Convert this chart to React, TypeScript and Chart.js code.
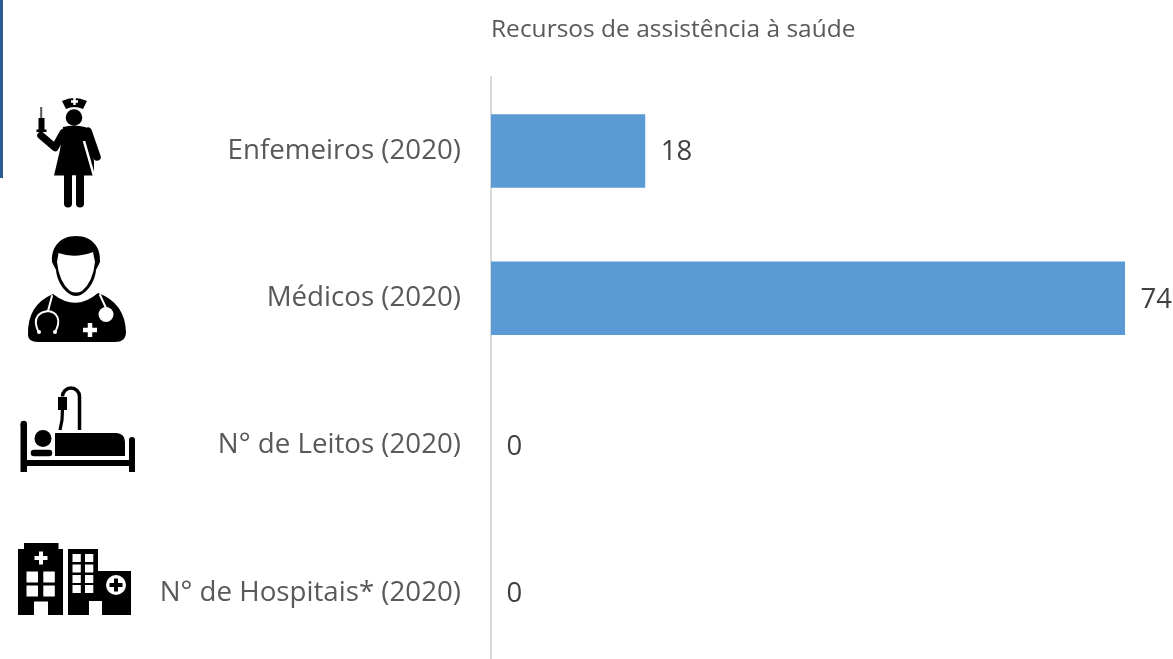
import React, { useEffect, useRef } from "react";
import { Chart, registerables } from "chart.js";

Chart.register(...registerables);

const titleText = "Recursos de assistência à saúde";
const categories = ["Enfemeiros (2020)", "Médicos (2020)", "N° de Leitos (2020)", "N° de Hospitais* (2020)"];
const values = [18, 74, 0, 0];

const FONT = '"Open Sans", "Noto Sans", sans-serif';

const valueLabels = {
  id: "valueLabels",
  afterDatasetsDraw(chart: any) {
    const { ctx } = chart;
    const meta = chart.getDatasetMeta(0);
    ctx.save();
    ctx.font = `27.5px ${FONT}`;
    ctx.fillStyle = "#404040";
    ctx.textAlign = "left";
    ctx.textBaseline = "middle";
    meta.data.forEach((bar: any, i: number) => {
      ctx.fillText(String(values[i]), bar.x + 15.5, bar.y + 1.5);
    });
    ctx.restore();
  },
};

function rect(ctx: CanvasRenderingContext2D, x0: number, y0: number, x1: number, y1: number) {
  ctx.fillRect(x0, y0, x1 - x0, y1 - y0);
}
function line(ctx: CanvasRenderingContext2D, pts: number[][], w: number, cap: CanvasLineCap = "round") {
  ctx.lineWidth = w;
  ctx.lineCap = cap;
  ctx.lineJoin = "round";
  ctx.beginPath();
  pts.forEach((p, i) => (i ? ctx.lineTo(p[0], p[1]) : ctx.moveTo(p[0], p[1])));
  ctx.stroke();
}
function disc(ctx: CanvasRenderingContext2D, x: number, y: number, r: number) {
  ctx.beginPath();
  ctx.arc(x, y, r, 0, Math.PI * 2);
  ctx.fill();
}
function cross(ctx: CanvasRenderingContext2D, x: number, y: number, len: number, t: number) {
  rect(ctx, x - len / 2, y - t / 2, x + len / 2, y + t / 2);
  rect(ctx, x - t / 2, y - len / 2, x + t / 2, y + len / 2);
}
const K = "#000000";
const W = "#ffffff";
function paint(ctx: CanvasRenderingContext2D, c: string) {
  ctx.fillStyle = c;
  ctx.strokeStyle = c;
}

function nurse(ctx: CanvasRenderingContext2D) {
  paint(ctx, K);
  ctx.beginPath();
  ctx.moveTo(62, 101);
  ctx.quadraticCurveTo(74, 95, 87, 101);
  ctx.lineTo(83, 109);
  ctx.quadraticCurveTo(74, 105, 66, 109);
  ctx.closePath();
  ctx.fill();
  disc(ctx, 74, 117.5, 8.3);
  paint(ctx, "#555555");
  rect(ctx, 40.2, 107, 42.2, 118);
  paint(ctx, K);
  rect(ctx, 38.5, 118, 44.5, 130);
  rect(ctx, 36.5, 129.5, 46.5, 132);
  line(ctx, [[41, 135.5], [55, 147.5], [63, 133]], 7.5);
  ctx.beginPath();
  ctx.moveTo(63, 127);
  ctx.quadraticCurveTo(74, 124, 85, 127);
  ctx.quadraticCurveTo(90, 129, 92, 135);
  ctx.lineTo(95, 175.5);
  ctx.lineTo(54, 175.5);
  ctx.lineTo(60, 150);
  ctx.closePath();
  ctx.fill();
  paint(ctx, W);
  line(ctx, [[84, 141], [94, 176]], 2.5, "butt");
  paint(ctx, K);
  line(ctx, [[88, 131], [97, 157]], 7.5);
  paint(ctx, W);
  rect(ctx, 94, 162, 100, 178);
  cross(ctx, 74.5, 101.5, 7, 2.5);
  paint(ctx, W);
  rect(ctx, 72.2, 175.5, 75.8, 208);
  paint(ctx, K);
  line(ctx, [[68, 176], [68, 203.5]], 8);
  line(ctx, [[80, 176], [80, 203.5]], 8);
}

function doctor(ctx: CanvasRenderingContext2D) {
  paint(ctx, K);
  ctx.beginPath();
  ctx.moveTo(28, 335);
  ctx.quadraticCurveTo(27, 305, 53, 294);
  ctx.quadraticCurveTo(76, 312, 98, 293);
  ctx.quadraticCurveTo(125, 303, 126, 332);
  ctx.quadraticCurveTo(126, 342, 115, 342);
  ctx.lineTo(38, 342);
  ctx.quadraticCurveTo(28, 342, 28, 335);
  ctx.closePath();
  ctx.fill();
  ctx.beginPath();
  ctx.moveTo(76, 236);
  ctx.bezierCurveTo(92, 236, 101, 247, 100, 262);
  ctx.lineTo(96, 270);
  ctx.bezierCurveTo(95, 283, 85, 296, 76, 296);
  ctx.bezierCurveTo(67, 296, 57, 283, 56, 270);
  ctx.lineTo(52, 262);
  ctx.bezierCurveTo(51, 247, 60, 236, 76, 236);
  ctx.closePath();
  ctx.fill();
  paint(ctx, W);
  ctx.beginPath();
  ctx.moveTo(57, 262);
  ctx.lineTo(58.5, 253);
  ctx.quadraticCurveTo(75, 259, 93, 252);
  ctx.lineTo(95, 262);
  ctx.quadraticCurveTo(93, 282, 82, 291);
  ctx.quadraticCurveTo(76, 294, 70, 291);
  ctx.quadraticCurveTo(59, 282, 57, 262);
  ctx.closePath();
  ctx.fill();
  ctx.lineWidth = 2;
  ctx.lineCap = "round";
  ctx.beginPath();
  ctx.moveTo(52, 296);
  ctx.lineTo(48, 311);
  ctx.moveTo(38.5, 332);
  ctx.bezierCurveTo(31, 316, 41, 312, 48, 311);
  ctx.bezierCurveTo(57, 312, 62, 320, 55, 332);
  ctx.stroke();
  disc(ctx, 39, 332, 2);
  disc(ctx, 55, 332, 2);
  line(ctx, [[100, 295], [106, 308]], 2);
  disc(ctx, 106, 314.5, 7.5);
  cross(ctx, 90, 330, 14, 4.5);
}

function bed(ctx: CanvasRenderingContext2D) {
  paint(ctx, K);
  rect(ctx, 20.5, 424, 27, 472);
  disc(ctx, 23.75, 424, 3.25);
  rect(ctx, 129, 440, 135, 472);
  disc(ctx, 132, 440, 3);
  rect(ctx, 27, 460, 129, 466);
  disc(ctx, 43, 438.5, 8.5);
  line(ctx, [[34, 453], [49, 453]], 6.5);
  ctx.beginPath();
  ctx.moveTo(55, 433);
  ctx.lineTo(117, 433);
  ctx.quadraticCurveTo(125, 434, 125, 442);
  ctx.lineTo(125, 456);
  ctx.lineTo(55, 456);
  ctx.closePath();
  ctx.fill();
  ctx.lineWidth = 3.5;
  ctx.lineCap = "butt";
  ctx.beginPath();
  ctx.moveTo(79.5, 430);
  ctx.lineTo(79.5, 397);
  ctx.arc(71, 396.5, 8.5, 0, Math.PI, true);
  ctx.stroke();
  rect(ctx, 58, 397, 67, 410);
  line(ctx, [[62.5, 409], [62, 420], [60, 430]], 3.2, "butt");
}

function hospital(ctx: CanvasRenderingContext2D) {
  paint(ctx, K);
  rect(ctx, 18, 549, 63, 615);
  rect(ctx, 24, 543, 58.5, 549);
  rect(ctx, 68, 549, 98, 615);
  rect(ctx, 98, 571, 131, 615);
  paint(ctx, W);
  cross(ctx, 41, 558, 13, 4);
  [26.5, 43.3].forEach((x) =>
    [571.5, 585.5].forEach((y) => rect(ctx, x, y, x + 11.5, y + 11)),
  );
  rect(ctx, 34, 601.5, 48, 615);
  [72.5, 85].forEach((x) =>
    [554, 564.5, 575, 585].forEach((y) => rect(ctx, x, y, x + 8.3, y + 8)),
  );
  rect(ctx, 89, 601, 102, 615);
  disc(ctx, 116, 585, 10);
  paint(ctx, K);
  cross(ctx, 116, 585, 13, 4);
}

const decorations = {
  id: "decorations",
  afterDraw(chart: any) {
    const { ctx } = chart;
    ctx.save();
    ctx.fillStyle = "#2B5B8F";
    ctx.fillRect(0, 0, 3, 178);
    nurse(ctx);
    doctor(ctx);
    bed(ctx);
    hospital(ctx);
    ctx.restore();
  },
};

export default function App() {
  const ref = useRef<HTMLCanvasElement>(null);
  useEffect(() => {
    const chart = new Chart(ref.current as HTMLCanvasElement, {
      type: "bar",
      data: {
        labels: categories,
        datasets: [
          {
            data: values,
            backgroundColor: "#5B9BD5",
            categoryPercentage: 1,
            barPercentage: 0.5,
          },
        ],
      },
      plugins: [valueLabels, decorations],
      options: {
        indexAxis: "y",
        animation: false,
        responsive: false,
        layout: { padding: 0 },
        plugins: {
          legend: { display: false },
          tooltip: { enabled: false },
          title: {
            display: true,
            text: titleText,
            align: "start",
            fullSize: false,
            color: "#595959",
            font: { family: FONT, size: 24.5, weight: "normal" },
            padding: { top: 15.5, bottom: 32.5 },
          },
        },
        scales: {
          x: { display: false, min: 0, max: 79.6 },
          y: {
            afterFit(scale: any) {
              scale.width = 491;
            },
            grid: { display: false, drawTicks: false },
            border: { display: true, color: "#D9D9D9", width: 2 },
            ticks: {
              color: "#595959",
              padding: 30,
              font: { family: FONT, size: 27.7 },
            },
          },
        },
      },
    } as any);
    return () => chart.destroy();
  }, []);
  return (
    <div style={{ position: "absolute", left: 0, top: 0, width: 1173, height: 659, overflow: "hidden", background: "#fff" }}>
      <canvas ref={ref} width={1173} height={713} style={{ display: "block" }} />
    </div>
  );
}
